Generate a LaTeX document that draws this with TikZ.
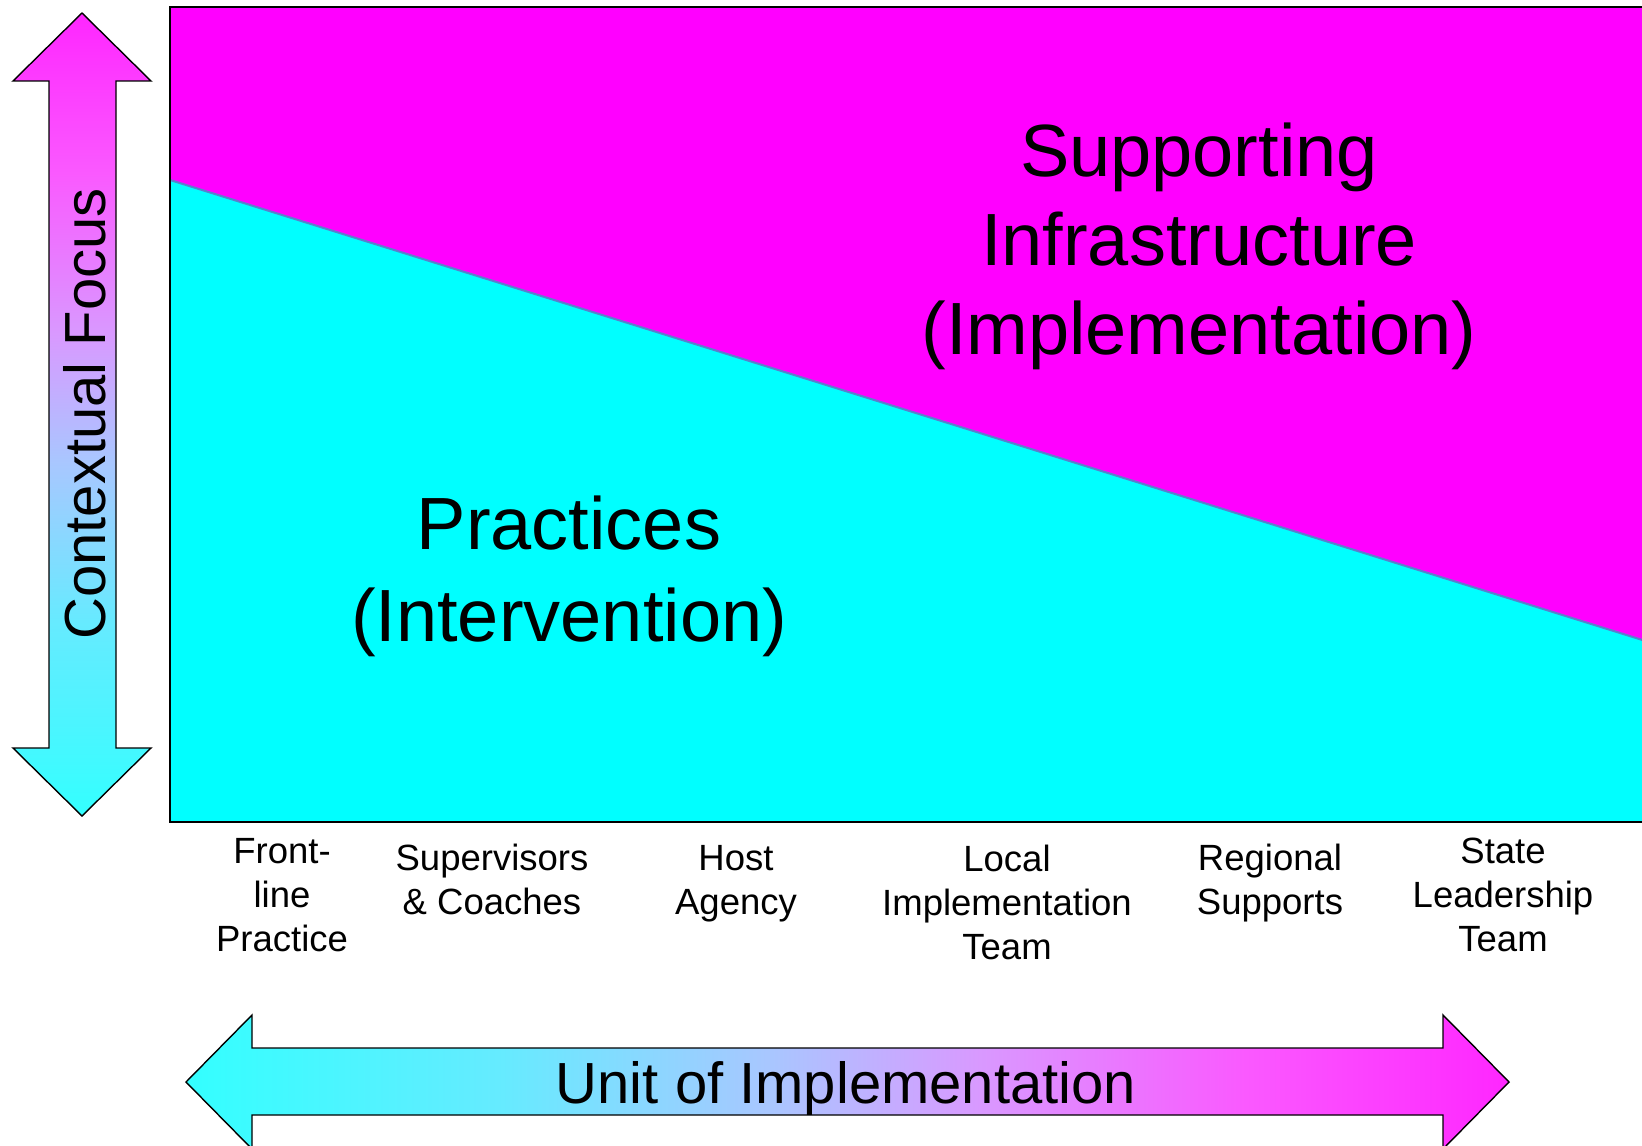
\documentclass[tikz,border=0pt]{standalone}
\usepackage{fontspec}
\setmainfont{Liberation Sans}
\definecolor{mg}{rgb}{1,0,1}
\definecolor{cy}{rgb}{0,1,1}
\definecolor{gcy}{rgb}{0.2,1,1}
\definecolor{gc2}{rgb}{0.4,0.92,1}
\definecolor{gc3}{rgb}{0.66,0.78,1}
\definecolor{gc4}{rgb}{0.85,0.6,1}
\definecolor{gc5}{rgb}{0.98,0.35,1}
\definecolor{gmg}{rgb}{1,0.15,1}
\definecolor{edgec}{rgb}{0.35,0.5,0.8}
\pgfdeclarehorizontalshading{hgrad}{100bp}{color(0bp)=(gcy); color(25bp)=(gcy); color(37bp)=(gc2); color(47bp)=(gc3); color(55bp)=(gc4); color(65bp)=(gc5); color(75bp)=(gmg); color(100bp)=(gmg)}
\pgfdeclareverticalshading{vgrad}{100bp}{color(0bp)=(gcy); color(25bp)=(gcy); color(37bp)=(gc2); color(47bp)=(gc3); color(55bp)=(gc4); color(65bp)=(gc5); color(75bp)=(gmg); color(100bp)=(gmg)}
\begin{document}
\begin{tikzpicture}[x=0.5pt,y=-0.5pt,
  arrowline/.style={draw=black,line width=0.7pt,line join=miter},
  lbl/.style={align=center,inner sep=0pt,font=\fontsize{18.25}{22}\selectfont},
  big/.style={align=center,inner sep=0pt,font=\fontsize{37}{44.5}\selectfont},
  bigb/.style={align=center,inner sep=0pt,font=\fontsize{37}{46}\selectfont},
  midt/.style={inner sep=0pt,font=\fontsize{29}{35}\selectfont}]
\useasboundingbox (0,0) rectangle (1642,1145);
\clip (0,0) rectangle (1642,1145);
% plot area
\fill[mg] (170,7) rectangle (1700,822);
\fill[cy] (170,180) -- (1700,658) -- (1700,822) -- (170,822) -- cycle;
\draw[edgec,line width=1pt] (170,180) -- (1700,658);
\draw[line width=0.8pt] (1700,7) -- (170,7) -- (170,822) -- (1700,822);
% vertical arrow
\path[arrowline,shading=vgrad] (82,13) -- (151,81) -- (116,81) -- (116,748) -- (151,748) -- (82,816) -- (13,748) -- (49,748) -- (49,81) -- (13,81) -- cycle;
% horizontal arrow
\path[arrowline,shading=hgrad] (186,1082) -- (252,1015) -- (252,1048) -- (1443,1048) -- (1443,1015) -- (1509,1082) -- (1443,1149) -- (1443,1115) -- (252,1115) -- (252,1149) -- cycle;
% texts
\node[midt,rotate=90,anchor=base] (ctx) at (105,414) {Contextual Focus};
\node[midt,anchor=base] (unit) at (846,1103) {Unit of Implementation};
\node[big] (sup) at (1199,246) {Supporting\\Infrastructure\\(Implementation)};
\node[bigb] (prac) at (569,576) {Practices\\(Intervention)};
\node[lbl] (l1) at (282,895) {Front-\\line\\Practice};
\node[lbl] (l2) at (492,879) {Supervisors\\\& Coaches};
\node[lbl] (l3) at (736,884) {Host\\Agency};
\node[lbl] (l4) at (1007,902) {Local\\Implementation\\Team};
\node[lbl] (l5) at (1270,883) {Regional\\Supports};
\node[lbl] (l6) at (1503,895) {State\\Leadership\\Team};
\end{tikzpicture}
\end{document}
